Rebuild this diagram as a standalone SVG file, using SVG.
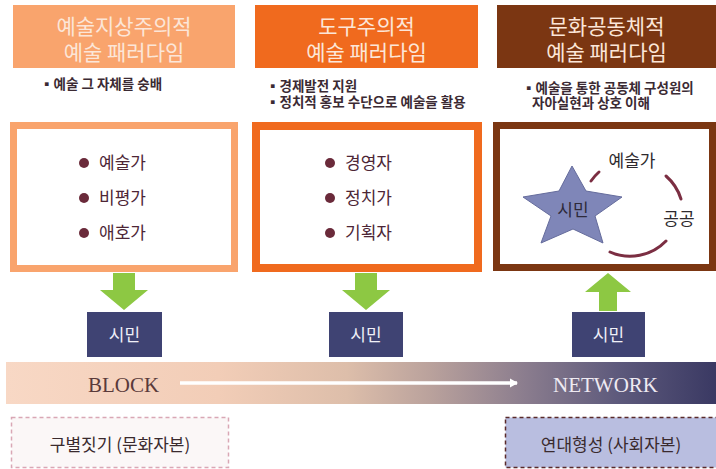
<svg xmlns="http://www.w3.org/2000/svg" width="716" height="469" viewBox="0 0 716 469">
<defs>
<style>
.kr{font-family:"Noto Sans CJK KR","Noto Sans",sans-serif;}
.hd{font-size:21px;fill:#FCE6D8;text-anchor:middle;}
.bl{font-size:13.5px;font-weight:bold;fill:#3b2a33;}
.li{font-size:17px;fill:#4d2636;}
.dot{fill:#6A2A3A;}
.cit{fill:#3F4373;}
.cit-t{font-size:17px;fill:#F0F0F8;text-anchor:middle;}
.grn{fill:#8DC843;}
.en{font-family:"Liberation Serif",serif;font-size:21px;}
.cap{font-size:17px;fill:#3a2a2e;text-anchor:middle;}
.arc{fill:none;stroke:#7B2E42;stroke-width:3;stroke-linecap:round;}
</style>
<linearGradient id="band" x1="0" y1="0" x2="1" y2="0">
<stop offset="0" stop-color="#F8D8C5"/>
<stop offset="0.3" stop-color="#F2CDB7"/>
<stop offset="0.48" stop-color="#DDBEAA"/>
<stop offset="0.6" stop-color="#B9A19C"/>
<stop offset="0.73" stop-color="#8B7D8E"/>
<stop offset="0.86" stop-color="#5E5A7C"/>
<stop offset="1" stop-color="#3A3963"/>
</linearGradient>
<marker id="wh" markerWidth="10" markerHeight="10" refX="7" refY="5" orient="auto" markerUnits="userSpaceOnUse">
<path d="M0,0.5 L8,5 L0,9.5 Z" fill="#FFFFFF"/>
</marker>
</defs>
<rect width="716" height="469" fill="#FFFFFF"/>

<g id="header1">
<rect x="13" y="5" width="222" height="63" fill="#F9A46D"/>
<text class="kr hd" x="124" y="34">예술지상주의적</text>
<text class="kr hd" x="124" y="60">예술 패러다임</text>
<text class="kr bl" x="40" y="89">▪예술 그 자체를 숭배</text>
</g>
<g id="header2">
<rect x="255" y="5" width="223" height="63" fill="#F06A1E"/>
<text class="kr hd" x="366.5" y="34">도구주의적</text>
<text class="kr hd" x="366.5" y="60">예술 패러다임</text>
<text class="kr bl" x="266" y="91">▪경제발전 지원</text>
<text class="kr bl" x="266" y="107">▪정치적 홍보 수단으로 예술을 활용</text>
</g>
<g id="header3">
<rect x="497" y="5" width="219" height="63" fill="#7B3612"/>
<text class="kr hd" x="606.5" y="34">문화공동체적</text>
<text class="kr hd" x="606.5" y="60">예술 패러다임</text>
<text class="kr bl" x="522" y="93">▪예술을 통한 공동체 구성원의</text>
<text class="kr bl" x="532" y="108">자아실현과 상호 이해</text>
</g>

<g id="panel1">
<rect x="13.5" y="125.5" width="221" height="143" fill="#FFFFFF" stroke="#F9A46D" stroke-width="7"/>
<circle class="dot" cx="84" cy="163" r="5"/>
<circle class="dot" cx="84" cy="198" r="5"/>
<circle class="dot" cx="84" cy="233" r="5"/>
<text class="kr li" x="99" y="169">예술가</text>
<text class="kr li" x="99" y="204">비평가</text>
<text class="kr li" x="99" y="239">애호가</text>
</g>
<g id="panel2">
<rect x="256" y="126" width="222" height="142" fill="#FFFFFF" stroke="#F06A1E" stroke-width="8"/>
<circle class="dot" cx="330" cy="163" r="5"/>
<circle class="dot" cx="330" cy="198" r="5"/>
<circle class="dot" cx="330" cy="233" r="5"/>
<text class="kr li" x="345" y="169">경영자</text>
<text class="kr li" x="345" y="204">정치가</text>
<text class="kr li" x="345" y="239">기획자</text>
</g>
<g id="panel3">
<rect x="496.5" y="125.5" width="216" height="142" fill="#FFFFFF" stroke="#7B3612" stroke-width="7"/>
<path class="arc" d="M591,181 A50,50 0 0,1 599,172"/>
<path class="arc" d="M666,176 A50,50 0 0,1 681,199"/>
<path class="arc" d="M610,252 A50,50 0 0,0 666,241"/>
<polygon points="572,166 586,191 622,197 595,216 603,243 573,229 541,243 551,216 523,197 559,191" fill="#7F86B8" stroke="#656C9C" stroke-width="1"/>
<text class="kr" x="573" y="216" font-size="17" fill="#2E2A3A" text-anchor="middle">시민</text>
<text class="kr" x="632" y="167" font-size="17" fill="#2E2A2E" text-anchor="middle">예술가</text>
<text class="kr" x="679" y="225" font-size="17" fill="#2E2A2E" text-anchor="middle">공공</text>
</g>

<g id="citizen1">
<rect class="cit" x="87" y="312" width="75" height="45"/>
<text class="kr cit-t" x="124.5" y="341">시민</text>
</g>
<g id="citizen2">
<rect class="cit" x="329" y="312" width="74" height="45"/>
<text class="kr cit-t" x="366" y="341">시민</text>
</g>
<g id="citizen3">
<rect class="cit" x="572" y="312" width="73" height="45"/>
<text class="kr cit-t" x="608.5" y="341">시민</text>
</g>

<g id="band">
<rect x="6" y="362" width="710" height="42" fill="url(#band)"/>
<text class="en" x="88" y="392" fill="#5A3A3A">BLOCK</text>
<text class="en" x="553" y="392" fill="#EEEAF2">NETWORK</text>
</g>

<g id="connectors">
<polygon class="grn" points="113,273 135,273 135,290 148,290 124,310 100,290 113,290"/>
<polygon class="grn" points="355,273 377,273 377,290 390,290 366,310 342,290 355,290"/>
<polygon class="grn" points="608,273 631,292 617,292 617,311 599,311 599,292 585,292"/>
<line x1="180" y1="383" x2="517" y2="383" stroke="#FFFFFF" stroke-width="3.5" marker-end="url(#wh)"/>
</g>

<g id="capital1">
<rect x="11.5" y="417.5" width="217" height="50" fill="#FBF7F7" stroke="#D9A7B5" stroke-width="1.5" stroke-dasharray="4 3"/>
<text class="kr cap" x="120" y="451">구별짓기 (문화자본)</text>
</g>
<g id="capital2">
<rect x="505.5" y="417.5" width="212" height="50" fill="#B9BEE0" stroke="#5A2A2A" stroke-width="1.5" stroke-dasharray="4 3"/>
<text class="kr cap" x="611" y="451">연대형성 (사회자본)</text>
</g>
</svg>
